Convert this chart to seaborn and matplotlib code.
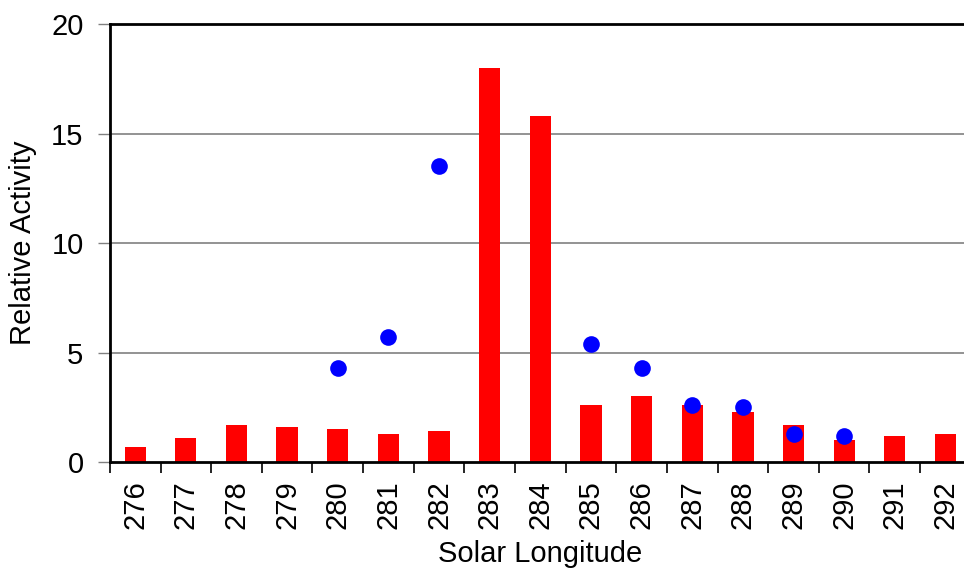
import numpy as np
import pandas as pd
import matplotlib
matplotlib.use("Agg")
import matplotlib.pyplot as plt
import seaborn as sns

# solar longitude bins and the two activity series
longitudes = [str(v) for v in range(276, 293)]
bar_activity = [0.7, 1.1, 1.7, 1.6, 1.5, 1.3, 1.4, 18.0, 15.8, 2.6, 3.0, 2.6, 2.3, 1.7, 1.0, 1.2, 1.3]
dot_longitudes = ["280", "281", "282", "285", "286", "287", "288", "289", "290"]
dot_activity = [4.3, 5.7, 13.5, 5.4, 4.3, 2.6, 2.5, 1.3, 1.2]

bars = pd.DataFrame({"lon": longitudes, "activity": bar_activity})
dots = pd.DataFrame({"lon": dot_longitudes, "activity": dot_activity})

sns.set_style("white")
plt.rcParams["font.family"] = ["Liberation Sans", "DejaVu Sans"]
plt.rcParams["text.color"] = "black"
plt.rcParams["axes.labelcolor"] = "black"
plt.rcParams["xtick.color"] = "black"
plt.rcParams["ytick.color"] = "black"

fig = plt.figure(figsize=(9.64, 5.79), dpi=100)
ax = fig.add_axes([0.114, 0.202, 0.893, 0.7565])

for y in [5, 10, 15]:
    ax.axhline(y, color="#808080", lw=1.2, zorder=0)

sns.barplot(data=bars, x="lon", y="activity", order=longitudes, color="#ff0000",
            saturation=1, width=0.42, linewidth=0, ax=ax, zorder=2)
sns.stripplot(data=dots, x="lon", y="activity", order=longitudes, color="#0000ff",
              jitter=False, size=12, linewidth=0, ax=ax, zorder=3)

ax.set_xlim(-0.5, 16.35)
ax.set_ylim(0, 20)
ax.set_yticks([0, 5, 10, 15, 20])
ax.tick_params(axis="y", direction="out", length=9, width=1, color="#808080",
               labelcolor="black", labelsize=21, left=True, pad=10)
ax.set_xticks(np.arange(len(longitudes)))
ax.set_xticklabels(longitudes, rotation=90)
ax.set_xticks(np.arange(len(longitudes) + 1) - 0.5, minor=True)
ax.tick_params(axis="x", which="major", length=0, labelsize=21, pad=13, labelcolor="black")
ax.tick_params(axis="x", which="minor", direction="out", length=8, width=1.2, color="#000000", bottom=True)

for side in ["left", "bottom", "top"]:
    ax.spines[side].set_visible(True)
    ax.spines[side].set_color("black")
    ax.spines[side].set_linewidth(2)
ax.spines["right"].set_visible(False)

ax.set_xlabel("Solar Longitude", fontsize=21, labelpad=8, color="black")
ax.set_ylabel("Relative Activity", fontsize=21, labelpad=10, color="black")

fig.savefig("out.png", dpi=100)
